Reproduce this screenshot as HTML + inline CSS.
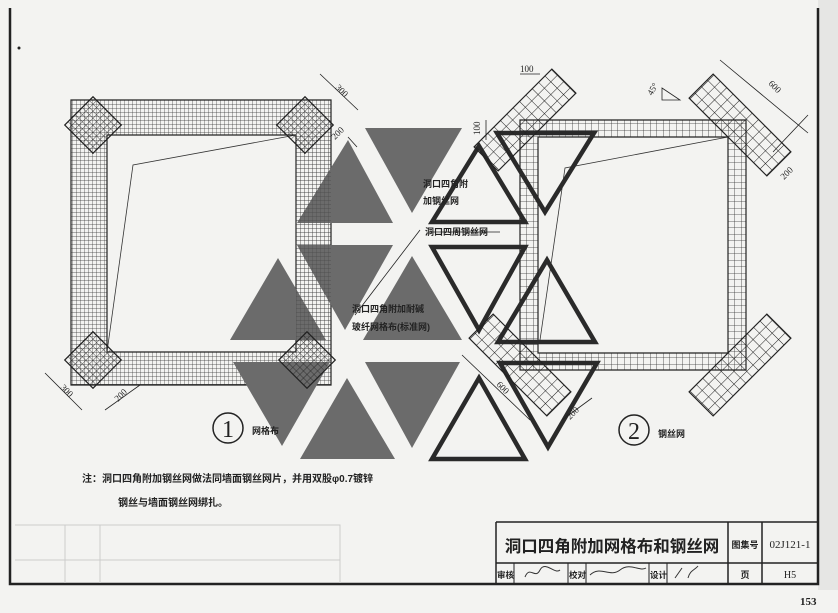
<!DOCTYPE html>
<html><head><meta charset="utf-8"><style>
html,body{margin:0;padding:0;background:#f3f3f1;}
svg{display:block;}
text{font-family:"Liberation Serif","Noto Serif CJK SC","Noto Sans CJK SC",serif;fill:#222;}
.cj{font-family:"Liberation Sans","Noto Sans CJK SC",sans-serif;font-weight:bold;}
</style></head><body>
<svg width="838" height="613" viewBox="0 0 838 613" xmlns="http://www.w3.org/2000/svg">
<defs>
<pattern id="g1" width="4" height="4" patternUnits="userSpaceOnUse"><path d="M0 0H4M0 0V4" stroke="#333" stroke-width="0.7" fill="none"/></pattern>
<pattern id="g2" width="6.5" height="6.5" patternUnits="userSpaceOnUse"><path d="M0 0H6.5M0 0V6.5" stroke="#333" stroke-width="0.8" fill="none"/></pattern>
<pattern id="g3" width="5" height="5" patternUnits="userSpaceOnUse"><path d="M0 0H5M0 0V5" stroke="#222" stroke-width="0.8" fill="none"/></pattern>
<pattern id="g4" width="9" height="9" patternUnits="userSpaceOnUse"><path d="M0 0H9M0 0V9" stroke="#222" stroke-width="1" fill="none"/></pattern>
</defs>
<rect x="0" y="0" width="838" height="613" fill="#f3f3f1"/>
<rect x="818" y="0" width="20" height="590" fill="#e6e6e4"/>
<path d="M10 8V584H818V8" stroke="#222" stroke-width="2.5" fill="none"/>
<circle cx="19" cy="48" r="1.5" fill="#222"/>

<path fill-rule="evenodd" d="M71 100H331V385H71Z M107 135V352H296V135Z" fill="url(#g1)" stroke="#222" stroke-width="1.2"/>
<path d="M296 135L133 165L107 352" stroke="#333" fill="none" stroke-width="0.8"/>

<g fill="#6b6b6b">
<path d="M297 223L393 223L348 140Z"/>
<path d="M365 128L462 128L412 213Z"/>
<path d="M297 245L393 245L345 330Z"/>
<path d="M363 340L462 340L412 256Z"/>
<path d="M230 340L326 340L278 258Z"/>
<path d="M233 362L330 362L282 446Z"/>
<path d="M365 362L460 362L412 448Z"/>
<path d="M300 459L395 459L347 378Z"/>
</g>
<path d="M296 135H331V352H296Z" fill="url(#g1)" opacity="0.6"/>

<g fill="url(#g3)" stroke="#222" stroke-width="1.2">
<rect x="-20" y="-20" width="40" height="40" transform="translate(93,125) rotate(45)"/>
<rect x="-20" y="-20" width="40" height="40" transform="translate(305,125) rotate(45)"/>
<rect x="-20" y="-20" width="40" height="40" transform="translate(93,360) rotate(45)"/>
<rect x="-20" y="-20" width="40" height="40" transform="translate(307,360) rotate(45)"/>
</g>

<path fill-rule="evenodd" d="M520 120H746V370H520Z M538 137V353H728V137Z" fill="url(#g2)" stroke="#222" stroke-width="1.2"/>
<path d="M728 137L565 168L540 340" stroke="#333" fill="none" stroke-width="0.8"/>

<g fill="none" stroke="#2a2a2a" stroke-width="4.5" stroke-linejoin="miter">
<path d="M432 222L525 222L479 146Z"/>
<path d="M497 133L594 133L545 212Z"/>
<path d="M432 247L525 247L479 330Z"/>
<path d="M498 342L595 342L547 260Z"/>
<path d="M500 363L597 363L548 447Z"/>
<path d="M432 459L525 459L479 378Z"/>
</g>

<g fill="url(#g4)" stroke="#222" stroke-width="1.2">
<rect x="-55" y="-17" width="110" height="34" transform="translate(525,120) rotate(-45)"/>
<rect x="-55" y="-17" width="110" height="34" transform="translate(740,125) rotate(45)"/>
<rect x="-55" y="-17" width="110" height="34" transform="translate(520,365) rotate(45)"/>
<rect x="-55" y="-17" width="110" height="34" transform="translate(740,365) rotate(-45)"/>
</g>

<g stroke="#222" stroke-width="0.8" fill="none">
<path d="M320 74L358 110"/><path d="M348 137L357 147"/>
<path d="M45 373L82 410"/><path d="M105 410L140 385"/>
<path d="M520 74H540"/><path d="M486 120V140"/>
<path d="M720 60L808 133"/><path d="M773 152L808 115"/>
<path d="M462 355L530 420"/><path d="M562 420L592 398"/>
<path d="M662 88L680 100L662 100Z"/>
<path d="M355 315L420 230M430 232H500"/>
</g>
<g font-size="9">
<text x="335" y="88" transform="rotate(45 335 88)">300</text>
<text x="335" y="140" transform="rotate(-45 335 140)">200</text>
<text x="60" y="388" transform="rotate(45 60 388)">300</text>
<text x="118" y="402" transform="rotate(-45 118 402)">200</text>
<text x="520" y="72">100</text>
<text x="480" y="135" transform="rotate(-90 480 135)">100</text>
<text x="652" y="96" transform="rotate(-60 652 96)">45°</text>
<text x="768" y="84" transform="rotate(45 768 84)">600</text>
<text x="784" y="180" transform="rotate(-45 784 180)">200</text>
<text x="496" y="385" transform="rotate(45 496 385)">600</text>
<text x="570" y="420" transform="rotate(-45 570 420)">200</text>
</g>
<g font-size="9">
<text x="423" y="187" class="cj">洞口四角附</text>
<text x="423" y="204" class="cj">加钢丝网</text>
<text x="425" y="235" class="cj">洞口四周钢丝网</text>
<text x="352" y="312" class="cj">洞口四角附加耐碱</text>
<text x="352" y="330" class="cj">玻纤网格布(标准网)</text>
<text x="252" y="434" class="cj">网格布</text>
<text x="658" y="437" class="cj">钢丝网</text>
</g>
<circle cx="228" cy="428" r="15" fill="none" stroke="#222" stroke-width="1.5"/>
<text x="228" y="437" font-size="24" text-anchor="middle">1</text>
<circle cx="634" cy="430" r="15" fill="none" stroke="#222" stroke-width="1.5"/>
<text x="634" y="439" font-size="24" text-anchor="middle">2</text>

<text x="82" y="482" font-size="10" class="cj">注：洞口四角附加钢丝网做法同墙面钢丝网片，并用双股φ0.7镀锌</text>
<text x="118" y="506" font-size="10" class="cj">钢丝与墙面钢丝网绑扎。</text>

<g stroke="#ccc" fill="none" stroke-width="1"><path d="M15 525H340V583M15 560H340M65 525V583M100 525V583"/></g>

<g stroke="#222" stroke-width="1.5" fill="none">
<path d="M496 522H818M496 522V584M728 522V584M762 522V584M496 563H818"/>
<path d="M514 563V584M568 563V584M586 563V584M649 563V584M667 563V584" stroke-width="1"/>
</g>
<text x="612" y="552" font-size="16.5" text-anchor="middle" class="cj" font-weight="normal">洞口四角附加网格布和钢丝网</text>
<text x="745" y="548" font-size="9" text-anchor="middle" class="cj">图集号</text>
<text x="790" y="548" font-size="11" text-anchor="middle">02J121-1</text>
<text x="497" y="578" font-size="8.5" class="cj">审核</text>
<text x="569" y="578" font-size="8.5" class="cj">校对</text>
<text x="650" y="578" font-size="8.5" class="cj">设计</text>
<text x="745" y="578" font-size="9" text-anchor="middle" class="cj">页</text>
<text x="790" y="578" font-size="10" text-anchor="middle">H5</text>
<g stroke="#333" fill="none" stroke-width="1"><path d="M525 577C530 565 535 580 540 570S555 575 560 570"/><path d="M590 575C600 565 610 578 620 570S640 572 646 568"/><path d="M675 578L682 568M688 578C690 570 695 570 698 566"/></g>
<text x="800" y="605" font-size="11" font-weight="bold">153</text>
</svg>
</body></html>
